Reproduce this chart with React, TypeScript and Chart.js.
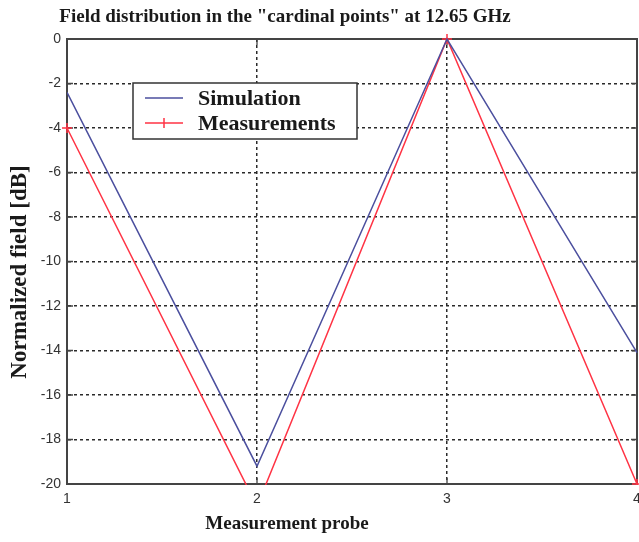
import { useEffect, useRef } from "react";
import { Chart, registerables } from "chart.js";

Chart.register(...registerables);

// Probe positions and normalized field levels (dB)
const probes = [1, 2, 3, 4];
const simulation = [-2.4, -19.2, 0, -14.1];
const measurements = [-4, -21, 0, -20];

const TITLE = 'Field distribution in the "cardinal points" at 12.65 GHz';
const X_TITLE = "Measurement probe";
const Y_TITLE = "Normalized field [dB]";
const SERIES = ["Simulation", "Measurements"];

const BLUE = "#4b4f9e";
const RED = "#ff3344";
const SERIF = '"Liberation Serif", "Times New Roman", serif';
const SANS = '"Liberation Sans", Arial, sans-serif';

const toPoints = (ys: number[]) => probes.map((x, i) => ({ x, y: ys[i] }));

// Axis box, MATLAB-style inward ticks, titles and the in-plot legend
const decorations = {
  id: "decorations",
  beforeDatasetsDraw(chart: any) {
    const { ctx, chartArea: a, scales } = chart;
    ctx.save();
    ctx.strokeStyle = "#444";
    ctx.lineWidth = 1.3;
    ctx.setLineDash([]);
    const len = 6;
    ctx.beginPath();
    for (const t of scales.x.ticks) {
      const px = scales.x.getPixelForValue(t.value);
      ctx.moveTo(px, a.bottom);
      ctx.lineTo(px, a.bottom - len);
      ctx.moveTo(px, a.top);
      ctx.lineTo(px, a.top + len);
    }
    for (const t of scales.y.ticks) {
      const py = scales.y.getPixelForValue(t.value);
      ctx.moveTo(a.left, py);
      ctx.lineTo(a.left + len, py);
      ctx.moveTo(a.right, py);
      ctx.lineTo(a.right - len, py);
    }
    ctx.stroke();
    ctx.lineWidth = 2;
    ctx.strokeRect(a.left, a.top, a.right - a.left, a.bottom - a.top);
    ctx.restore();
  },
  afterDraw(chart: any) {
    const { ctx, chartArea: a } = chart;
    ctx.save();
    ctx.fillStyle = "#1a1a1a";
    ctx.textBaseline = "middle";
    ctx.textAlign = "center";

    ctx.font = `bold 19px ${SERIF}`;
    ctx.fillText(TITLE, 285, 17);

    ctx.font = `bold 19px ${SERIF}`;
    ctx.fillText(X_TITLE, 287, 524);

    ctx.save();
    ctx.translate(20, 272);
    ctx.rotate(-Math.PI / 2);
    ctx.font = `bold 23px ${SERIF}`;
    ctx.fillText(Y_TITLE, 0, 0);
    ctx.restore();

    // legend box
    const bx = a.left + 66;
    const by = a.top + 44;
    const bw = 224;
    const bh = 56;
    ctx.fillStyle = "#fff";
    ctx.fillRect(bx, by, bw, bh);
    ctx.strokeStyle = "#333";
    ctx.lineWidth = 1.5;
    ctx.strokeRect(bx, by, bw, bh);

    const rows = [
      { label: SERIES[0], color: BLUE, marker: false, y: by + 15 },
      { label: SERIES[1], color: RED, marker: true, y: by + 40 },
    ];
    ctx.textAlign = "left";
    ctx.font = `bold 22px ${SERIF}`;
    for (const r of rows) {
      ctx.strokeStyle = r.color;
      ctx.lineWidth = 1.5;
      ctx.beginPath();
      ctx.moveTo(bx + 12, r.y);
      ctx.lineTo(bx + 50, r.y);
      if (r.marker) {
        const cx = bx + 31;
        ctx.moveTo(cx - 5, r.y);
        ctx.lineTo(cx + 5, r.y);
        ctx.moveTo(cx, r.y - 5);
        ctx.lineTo(cx, r.y + 5);
      }
      ctx.stroke();
      ctx.fillStyle = "#1a1a1a";
      ctx.fillText(r.label, bx + 65, r.y + 1);
    }
    ctx.restore();
  },
};

export default function App() {
  const ref = useRef<HTMLCanvasElement | null>(null);

  useEffect(() => {
    if (!ref.current) return;
    const tickFont = { family: SANS, size: 14 };
    const chart = new Chart(ref.current, {
      type: "line",
      data: {
        datasets: [
          {
            label: SERIES[0],
            data: toPoints(simulation),
            borderColor: BLUE,
            borderWidth: 1.5,
            pointRadius: 0,
            tension: 0,
            clip: { left: 0, top: 2, right: 2, bottom: 0 },
          },
          {
            label: SERIES[1],
            data: toPoints(measurements),
            borderColor: RED,
            backgroundColor: RED,
            borderWidth: 1.5,
            pointStyle: "cross",
            pointRadius: 5,
            pointBorderWidth: 1.5,
            pointBorderColor: RED,
            tension: 0,
            clip: { left: 6, top: 8, right: 8, bottom: 1 },
          },
        ],
      },
      options: {
        responsive: false,
        animation: false,
        devicePixelRatio: 1,
        layout: { padding: { top: 39, right: 23, bottom: 0, left: 0 } },
        plugins: {
          legend: { display: false },
          title: { display: false },
          tooltip: { enabled: false },
        },
        scales: {
          x: {
            type: "linear",
            min: 1,
            max: 4,
            ticks: { stepSize: 1, padding: 7, color: "#333", font: tickFont },
            grid: { color: "#2a2a2a", lineWidth: 1.5, drawTicks: false },
            border: { display: true, color: "#444", width: 2, dash: [3, 3] },
            afterFit: (s: any) => {
              s.height = 58;
            },
          },
          y: {
            type: "linear",
            min: -20,
            max: 0,
            ticks: { stepSize: 2, padding: 6, color: "#333", font: tickFont },
            grid: { color: "#2a2a2a", lineWidth: 1.5, drawTicks: false },
            border: { display: true, color: "#444", width: 2, dash: [3, 3] },
            afterFit: (s: any) => {
              s.width = 67;
            },
          },
        },
      },
      plugins: [decorations],
    } as any);
    return () => chart.destroy();
  }, []);

  return (
    <div
      style={{
        position: "absolute",
        left: 0,
        top: 0,
        width: 639,
        height: 542,
        overflow: "hidden",
        background: "#fff",
      }}
    >
      <canvas ref={ref} width={660} height={542} style={{ width: 660, height: 542, display: "block" }} />
    </div>
  );
}
